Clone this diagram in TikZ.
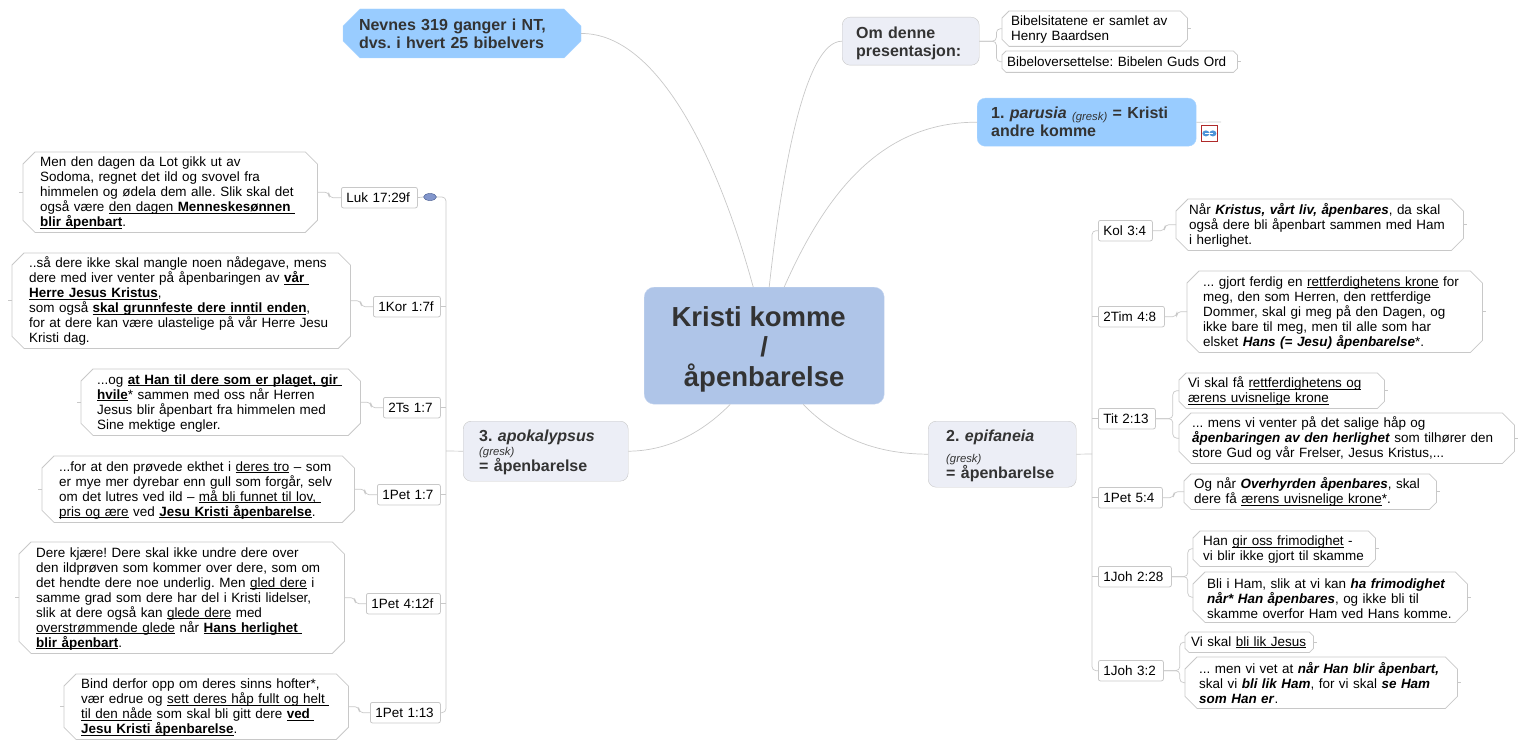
\documentclass[tikz,border=0pt]{standalone}
\usepackage{fontspec}
\usepackage{tikz}
\usetikzlibrary{shapes.misc, shapes.geometric, positioning}
\setmainfont{Liberation Sans}
\frenchspacing
\definecolor{linkgray}{HTML}{C8C8C8}
\definecolor{hubblue}{HTML}{AFC5E8}
\definecolor{skyblue}{HTML}{99CCFF}
\definecolor{palegray}{HTML}{ECEEF6}
\definecolor{topicdark}{HTML}{333333}
\definecolor{markblue}{HTML}{8296CC}
\definecolor{markline}{HTML}{3C5288}
\definecolor{iconred}{HTML}{B02A2A}
\definecolor{iconblue}{HTML}{4F94D8}
\newcommand{\uline}[1]{\leavevmode\setbox0=\hbox{#1}\rlap{\rule[-1.6pt]{\wd0}{0.8pt}}\box0\relax}
\newcommand{\ubf}[1]{\uline{\textbf{#1}}}
\newcommand{\bfit}[1]{\textbf{\textit{#1}}}
\newcommand{\gresk}{\fontsize{11.3}{11}\selectfont\mdseries\textit{(gresk)}}

\begin{document}
\begin{tikzpicture}[
    x=1pt, y=-1pt,
    link/.style={draw=linkgray, line width=0.7pt, rounded corners=4pt},
    textdown/.style={execute at begin node={\leavevmode\rule{0pt}{#1}}},
    hub/.style={rectangle, rounded corners=10pt, draw=hubblue!70!white, fill=hubblue, anchor=north west, inner sep=0pt, align=center, text=topicdark, font=\fontsize{27.5}{30}\selectfont\bfseries},
    topic/.style n args={3}{rectangle, rounded corners=8pt, draw=linkgray, fill=palegray, anchor=north west, inner sep=0pt, align=left, text=topicdark, minimum width=#1, minimum height=#2, text width={#1-2*#3}, font=\fontsize{16}{18}\selectfont\bfseries},
    bluetopic/.style n args={3}{topic={#1}{#2}{#3}, draw=skyblue!80!white, fill=skyblue},
    chamfer/.style={append after command={\pgfextra{
        \draw[linkgray, line width=0.8pt] ([xshift=#1]\tikzlastnode.north west) -- ([xshift=-#1]\tikzlastnode.north east)
          -- ([yshift=-#1]\tikzlastnode.north east) -- ([yshift=#1]\tikzlastnode.south east)
          -- ([xshift=-#1]\tikzlastnode.south east) -- ([xshift=#1]\tikzlastnode.south west)
          -- ([yshift=#1]\tikzlastnode.south west) -- ([yshift=-#1]\tikzlastnode.north west) -- cycle;}}},
    note/.style n args={3}{rectangle, chamfer=12pt, textdown=12pt, anchor=north west, inner sep=0pt, align=left, minimum width=#1, minimum height=#2, text width={#1-2*#3}, font=\fontsize{13.45}{15}\selectfont},
    midnote/.style n args={3}{rectangle, chamfer=7pt, textdown=12pt, anchor=north west, inner sep=0pt, align=left, minimum width=#1, minimum height=#2, text width={#1-2*#3}, font=\fontsize{13.45}{15}\selectfont},
    smallnote/.style n args={3}{rectangle, chamfer=4pt, anchor=north west, inner sep=0pt, align=left, minimum width=#1, minimum height=#2, text width={#1-2*#3}, font=\fontsize{13.45}{15}\selectfont},
    ref/.style={rectangle, rounded corners=2pt, draw=linkgray, line width=0.8pt, anchor=north west, inner sep=0pt, align=left, minimum width=#1, minimum height=20.5pt, text width={#1-10}, font=\fontsize{13.45}{15}\selectfont},
]
  \useasboundingbox (0,0) rectangle (1525,749);

  \node[hub, minimum width=240pt, minimum height=117pt] (komme) at (644,287) {\rule{0pt}{27pt}Kristi komme\hspace*{11pt}\\/\\åpenbarelse};

  % top of the map
  \node[chamfered rectangle, chamfered rectangle xsep=9pt, chamfered rectangle ysep=8pt, draw=skyblue!80!white, fill=skyblue, inner sep=0pt, align=left, text=topicdark, minimum width=238pt, minimum height=49pt, text width=206pt, font=\fontsize{16}{18}\selectfont\bfseries] (nevnes) at (462,33.5) {Nevnes 319 ganger i NT,\\dvs. i hvert 25 bibelvers};
  \node[topic={137}{48}{14}, textdown=15pt] (omdenne) at (842,17) {Om denne\\presentasjon:};
  \node[midnote={185}{35}{9}] (sitater) at (1002,11) {Bibelsitatene er samlet av\\Henry Baardsen};
  \node[smallnote={235}{21}{5}] (oversettelse) at (1002,51) {Bibeloversettelse: Bibelen Guds Ord};
  \node[bluetopic={219}{48}{14}] (parusia) at (977,98) {1. \textit{parusia} \raisebox{-2pt}{\gresk} = Kristi\\andre komme};
  \coordinate (iconend) at (1221,122);
  \node[draw=iconred, line width=0.8pt, fill=white, minimum size=16pt, inner sep=0pt, anchor=north west] (parusiaicon) at (1201,125) {};
  \fill[iconblue] (parusiaicon.center) ++(-3.5,0) ellipse (3.5pt and 3pt) ++(7,0) ellipse (3.5pt and 3pt);
  \draw[white, line width=0.7pt] (parusiaicon.center) ++(-4,0) -- ++(8,0);

  \draw[link] ([xshift=-11pt]komme.north) .. controls (720,165) and (660,33) .. (nevnes.east);
  \draw[link] ([xshift=5pt]komme.north) .. controls (782,170) and (805,41) .. (omdenne.west);
  \draw[link] ([xshift=20pt]komme.north) .. controls (825,195) and (880,122) .. (parusia.west);
  \draw[link] (omdenne.east) -- ++(17,0) |- (sitater.west);
  \draw[link] (omdenne.east) -- ++(17,0) |- (oversettelse.west);
  \draw[link] (parusia.east) -- (iconend);

  % 2. epifaneia and its verses
  \node[topic={148}{66}{18}, textdown=15pt] (epifaneia) at (928,421) {2. \textit{epifaneia}\\[3pt]{\gresk}\\[-2pt]= åpenbarelse};
  \coordinate (rightbus) at (1092,454);
  \node[ref=54] (kolref) at (1098,220) {Kol 3:4};
  \node[ref=66] (timref) at (1098,306) {2Tim 4:8};
  \node[ref=57] (titref) at (1098,408) {Tit 2:13};
  \node[ref=64] (petfemref) at (1098,487) {1Pet 5:4};
  \node[ref=73] (johtoref) at (1098,566) {1Joh 2:28};
  \node[ref=65] (johtreref) at (1098,660) {1Joh 3:2};

  \node[note={287}{51}{13}] (kolnote) at (1176,199) {Når \bfit{Kristus, vårt liv, åpenbares}, da skal\\også dere bli åpenbart sammen med Ham\\i herlighet.};
  \node[note={295}{81}{16}] (timnote) at (1187,271) {... gjort ferdig en \uline{rettferdighetens krone} for\\meg, den som Herren, den rettferdige\\Dommer, skal gi meg på den Dagen, og\\ikke bare til meg, men til alle som har\\elsket \bfit{Hans (= Jesu) åpenbarelse}*.};
  \node[midnote={205}{35}{9}] (titen) at (1179,373) {Vi skal få \uline{rettferdighetens og}\\\uline{ærens uvisnelige krone}};
  \node[note={335}{50}{13}] (tito) at (1179,413) {... mens vi venter på det salige håp og\\\bfit{åpenbaringen av den herlighet} som tilhører den\\store Gud og vår Frelser, Jesus Kristus,...};
  \node[midnote={252}{35}{10}] (petfemnote) at (1184,474) {Og når \bfit{Overhyrden åpenbares}, skal\\dere få \uline{ærens uvisnelige krone}*.};
  \node[midnote={182}{35}{10}] (johtoen) at (1193,531) {Han \uline{gir oss frimodighet} -\\vi blir ikke gjort til skamme};
  \node[note={274}{50}{14}] (johtoto) at (1193,572) {Bli i Ham, slik at vi kan \bfit{ha frimodighet}\\\bfit{når* Han åpenbares}, og ikke bli til\\skamme overfor Ham ved Hans komme.};
  \node[smallnote={128}{20}{6}] (johtreen) at (1185,632) {Vi skal \uline{bli lik Jesus}};
  \node[note={272}{51}{14}] (johtreto) at (1185,657) {... men vi vet at \bfit{når Han blir åpenbart,}\\skal vi \bfit{bli lik Ham}, for vi skal \bfit{se Ham}\\\bfit{som Han er}.};

  \draw[link] ([xshift=39pt]komme.south) .. controls (835,437) and (875,454) .. (epifaneia.west);
  \draw[link] (epifaneia.east) -- (rightbus);
  \draw[link] (kolref.west) -| (rightbus) |- (johtreref.west);
  \foreach \n in {timref, titref, petfemref, johtoref} {
    \draw[link] (\n.west) -- (\n.west -| rightbus);
  }
  \draw[link] (kolref.east) -- ++(12,0) |- (kolnote.west);
  \draw[link] (timref.east) -- ++(12,0) |- (timnote.west);
  \draw[link] (petfemref.east) -- ++(11,0) |- (petfemnote.west);
  \draw[link] (titref.east) -- ++(17,0) |- (titen.west);
  \draw[link] (titref.east) -- ++(17,0) |- (tito.west);
  \draw[link] (johtoref.east) -- ++(16,0) |- (johtoen.west);
  \draw[link] (johtoref.east) -- ++(16,0) |- (johtoto.west);
  \draw[link] (johtreref.east) -- ++(16,0) |- (johtreen.west);
  \draw[link] (johtreref.east) -- ++(16,0) |- (johtreto.west);
  \foreach \n in {sitater, oversettelse, kolnote, timnote, titen, tito, petfemnote, johtoen, johtoto, johtreen, johtreto} {
    \draw[link] (\n.east) -- ++(4,0);
  }

  % 3. apokalypsus and its verses
  \node[topic={165}{60}{16}, textdown=14pt] (apokalypsus) at (463,421) {3. \textit{apokalypsus}\\[-4pt]{\gresk}\\[-2pt]= åpenbarelse};
  \coordinate (leftbus) at (446,451);
  \node[ref=76] (lukref) at (341,187) {Luk 17:29f};
  \node[ellipse, draw=markline, fill=markblue, minimum width=13pt, minimum height=7pt, inner sep=0pt] (lukmark) at (430,197) {};
  \node[ref=67] (korref) at (373,296) {1Kor 1:7f};
  \node[ref=57] (tsref) at (383,397) {2Ts 1:7};
  \node[ref=63] (petsjuref) at (377,484) {1Pet 1:7};
  \node[ref=74] (petfireref) at (366,593) {1Pet 4:12f};
  \node[ref=70] (pettreref) at (370,702) {1Pet 1:13};

  \node[note={294}{80}{17}] (luknote) at (23,152) {Men den dagen da Lot gikk ut av\\Sodoma, regnet det ild og svovel fra\\himmelen og ødela dem alle. Slik skal det\\også være \uline{den dagen \textbf{Menneskesønnen~}}\\\ubf{blir åpenbart}.};
  \node[note={338}{95}{17}] (kornote) at (12,253) {..så dere ikke skal mangle noen nådegave, mens\\dere med iver venter på åpenbaringen av \ubf{vår~}\\\ubf{Herre Jesus Kristus},\\som også \ubf{skal grunnfeste dere inntil enden},\\for at dere kan være ulastelige på vår Herre Jesu\\Kristi dag.};
  \node[note={279}{66}{16}] (tsnote) at (81,369) {...og \ubf{at Han til dere som er plaget, gir~}\\\ubf{hvile}* sammen med oss når Herren\\Jesus blir åpenbart fra himmelen med\\Sine mektige engler.};
  \node[note={312}{66}{17}] (petsjunote) at (42,456) {...for at den prøvede ekthet i \uline{deres tro} – som\\er mye mer dyrebar enn gull som forgår, selv\\om det lutres ved ild – \uline{må bli funnet til lov,~}\\\uline{pris og ære} ved \ubf{Jesu Kristi åpenbarelse}.};
  \node[note={325}{111}{17}] (petfirenote) at (19,542) {Dere kjære! Dere skal ikke undre dere over\\den ildprøven som kommer over dere, som om\\det hendte dere noe underlig. Men \uline{gled dere} i\\samme grad som dere har del i Kristi lidelser,\\slik at dere også kan \uline{glede dere} med\\\uline{overstrømmende glede} når \ubf{Hans herlighet~}\\\ubf{blir åpenbart}.};
  \node[note={284}{65}{17}] (pettrenote) at (64,674) {Bind derfor opp om deres sinns hofter*,\\vær edrue og \uline{sett deres håp fullt og helt~}\\\uline{til den nåde} som skal bli gitt dere \ubf{ved~}\\\ubf{Jesu Kristi åpenbarelse}.};

  \draw[link] ([xshift=-34pt]komme.south) .. controls (700,435) and (665,451) .. (apokalypsus.east);
  \draw[link] (apokalypsus.west) -- (leftbus);
  \draw[link] (lukref.east) -- (lukmark.west);
  \draw[link] (lukmark.east) -| (leftbus) |- (pettreref.east);
  \foreach \n in {korref, tsref, petsjuref, petfireref} {
    \draw[link] (\n.east) -- (\n.east -| leftbus);
  }
  \draw[link] (lukref.west) -- ++(-12,0) |- (luknote.east);
  \draw[link] (korref.west) -- ++(-12,0) |- (kornote.east);
  \draw[link] (tsref.west) -- ++(-12,0) |- (tsnote.east);
  \draw[link] (petsjuref.west) -- ++(-12,0) |- (petsjunote.east);
  \draw[link] (petfireref.west) -- ++(-11,0) |- (petfirenote.east);
  \draw[link] (pettreref.west) -- ++(-11,0) |- (pettrenote.east);
  \foreach \n in {luknote, kornote, tsnote, petsjunote, petfirenote, pettrenote} {
    \draw[link] (\n.west) -- ++(-4,0);
  }
\end{tikzpicture}
\end{document}
